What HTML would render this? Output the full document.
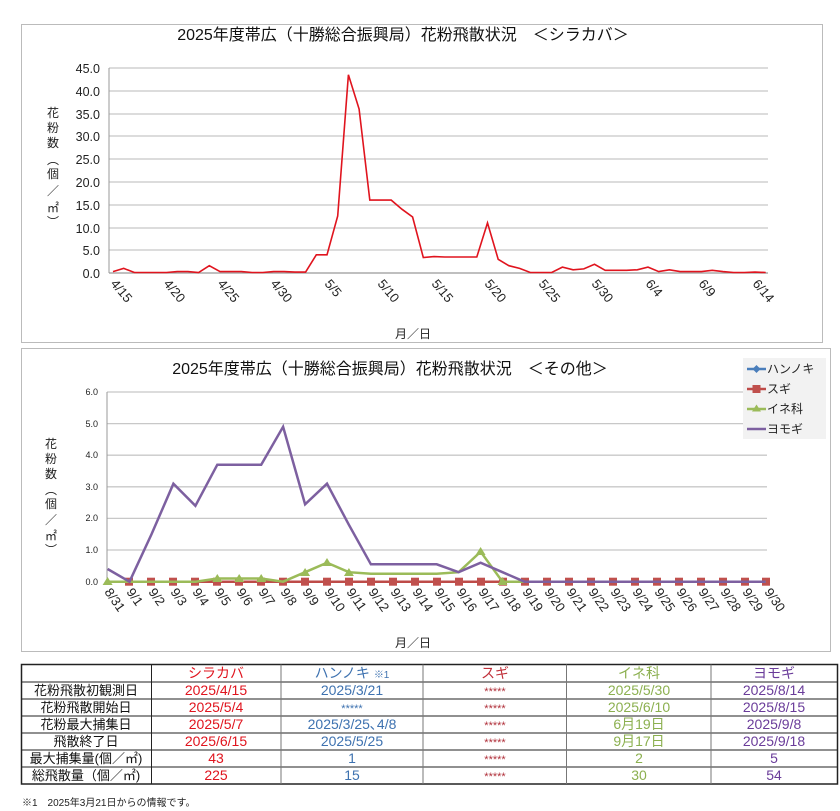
<!DOCTYPE html>
<html><head><meta charset="utf-8">
<style>
body{margin:0;background:#fff;}
svg{display:block;font-family:"Liberation Sans","Noto Sans CJK JP",sans-serif;}
</style></head><body>
<svg width="840" height="811" viewBox="0 0 840 811" xmlns="http://www.w3.org/2000/svg">
<rect width="840" height="811" fill="#fff"/>
<!-- Chart 1 -->
<rect x="21.5" y="24.5" width="801" height="318" fill="#fff" stroke="#bbb"/>
<text x="403" y="40" font-size="16" text-anchor="middle" fill="#111">2025年度帯広（十勝総合振興局）花粉飛散状況　＜シラカバ＞</text>
<g stroke="#c8c8c8" stroke-width="1.3">
<line x1="109" y1="68" x2="768" y2="68"/><line x1="109" y1="91" x2="768" y2="91"/>
<line x1="109" y1="114" x2="768" y2="114"/><line x1="109" y1="136" x2="768" y2="136"/>
<line x1="109" y1="159" x2="768" y2="159"/><line x1="109" y1="182" x2="768" y2="182"/>
<line x1="109" y1="205" x2="768" y2="205"/><line x1="109" y1="228" x2="768" y2="228"/>
<line x1="109" y1="250" x2="768" y2="250"/>
</g>
<line x1="109" y1="273" x2="768" y2="273" stroke="#999" stroke-width="1.3"/>
<line x1="109" y1="68" x2="109" y2="273" stroke="#999"/>
<g font-size="12.5" text-anchor="end" fill="#222">
<text x="100" y="73">45.0</text><text x="100" y="96">40.0</text><text x="100" y="119">35.0</text>
<text x="100" y="141">30.0</text><text x="100" y="164">25.0</text><text x="100" y="187">20.0</text>
<text x="100" y="210">15.0</text><text x="100" y="233">10.0</text><text x="100" y="255">5.0</text>
<text x="100" y="278">0.0</text>
</g>
<g font-size="12" fill="#222" text-anchor="middle">
<text x="53" y="117">花</text><text x="53" y="132">粉</text><text x="53" y="147">数</text>
<text x="53" y="164">︵</text><text x="53" y="178">個</text><text x="53" y="195">／</text>
<text x="53" y="212">㎡</text><text x="53" y="226">︶</text>
</g>
<polyline fill="none" stroke="#e0141e" stroke-width="1.6" points="113,271.6 123.7,268.4 134.4,272.5 145.1,272.5 155.8,272.5 166.5,272.5 177.2,271.6 187.9,271.6 198.6,272.5 209.3,265.7 220,271.6 230.7,271.6 241.4,271.6 252.1,272.5 262.8,272.5 273.5,271.6 284.2,271.6 294.9,272.1 305.6,272.1 316.3,254.8 327,254.8 337.7,216 348.4,74.8 359.1,109 369.8,200.1 380.5,200.1 391.2,200.1 401.9,209.2 412.6,217 423.3,257.5 434,256.6 444.7,257 455.4,257 466.1,257 476.8,257 487.5,222.9 498.2,259.3 508.9,265.7 519.6,268.4 530.3,272.5 541,272.5 551.7,272.5 562.4,267.1 573.1,269.8 583.8,268.9 594.5,264.3 605.2,270.3 615.9,270.3 626.6,270.3 637.3,269.8 648,267.1 658.7,271.6 669.4,269.8 680.1,271.6 690.8,271.6 701.5,271.6 712.2,270.3 722.9,271.6 733.6,272.5 744.3,272.5 755,272.1 765.7,272.5"/>
<g font-size="13" fill="#222">
<text transform="translate(110,284) rotate(50)">4/15</text>
<text transform="translate(163,284) rotate(50)">4/20</text>
<text transform="translate(217,284) rotate(50)">4/25</text>
<text transform="translate(270,284) rotate(50)">4/30</text>
<text transform="translate(324,284) rotate(50)">5/5</text>
<text transform="translate(377,284) rotate(50)">5/10</text>
<text transform="translate(431,284) rotate(50)">5/15</text>
<text transform="translate(484,284) rotate(50)">5/20</text>
<text transform="translate(538,284) rotate(50)">5/25</text>
<text transform="translate(591,284) rotate(50)">5/30</text>
<text transform="translate(645,284) rotate(50)">6/4</text>
<text transform="translate(698,284) rotate(50)">6/9</text>
<text transform="translate(752,284) rotate(50)">6/14</text>
</g>
<text x="413" y="338" font-size="12" text-anchor="middle" fill="#222">月／日</text>

<!-- Chart 2 -->
<rect x="21.5" y="348.5" width="809" height="303" fill="#fff" stroke="#bbb"/>
<text x="390" y="374" font-size="16" text-anchor="middle" fill="#111">2025年度帯広（十勝総合振興局）花粉飛散状況　＜その他＞</text>
<g stroke="#c8c8c8" stroke-width="1.3">
<line x1="107" y1="392" x2="767" y2="392"/><line x1="107" y1="423.6" x2="767" y2="423.6"/>
<line x1="107" y1="455.2" x2="767" y2="455.2"/><line x1="107" y1="486.8" x2="767" y2="486.8"/>
<line x1="107" y1="518.4" x2="767" y2="518.4"/><line x1="107" y1="550" x2="767" y2="550"/>
</g>
<line x1="107" y1="581.7" x2="767" y2="581.7" stroke="#999" stroke-width="1.3"/>
<line x1="107" y1="392" x2="107" y2="581.7" stroke="#999"/>
<g font-size="9" text-anchor="end" fill="#222">
<text x="98" y="395">6.0</text><text x="98" y="427">5.0</text><text x="98" y="458">4.0</text>
<text x="98" y="490">3.0</text><text x="98" y="521">2.0</text><text x="98" y="553">1.0</text>
<text x="98" y="585">0.0</text>
</g>
<g font-size="12" fill="#222" text-anchor="middle">
<text x="51" y="448">花</text><text x="51" y="463">粉</text><text x="51" y="478">数</text>
<text x="51" y="494">︵</text><text x="51" y="508">個</text><text x="51" y="524">／</text>
<text x="51" y="540">㎡</text><text x="51" y="554">︶</text>
</g>
<!-- series -->
<polyline fill="none" stroke="#4a7ebb" stroke-width="2.5" points="107.6,581.7 765.7,581.7"/>
<polyline fill="none" stroke="#be4b48" stroke-width="2.5" points="107.6,581.7 765.7,581.7"/>
<g fill="#c0504d">
<rect x="125" y="577.7" width="8" height="8"/><rect x="147" y="577.7" width="8" height="8"/><rect x="169" y="577.7" width="8" height="8"/><rect x="191" y="577.7" width="8" height="8"/><rect x="213" y="577.7" width="8" height="8"/><rect x="235" y="577.7" width="8" height="8"/><rect x="257" y="577.7" width="8" height="8"/><rect x="279" y="577.7" width="8" height="8"/><rect x="301" y="577.7" width="8" height="8"/><rect x="323" y="577.7" width="8" height="8"/><rect x="345" y="577.7" width="8" height="8"/><rect x="367" y="577.7" width="8" height="8"/><rect x="389" y="577.7" width="8" height="8"/><rect x="411" y="577.7" width="8" height="8"/><rect x="433" y="577.7" width="8" height="8"/><rect x="455" y="577.7" width="8" height="8"/><rect x="477" y="577.7" width="8" height="8"/><rect x="499" y="577.7" width="8" height="8"/><rect x="521" y="577.7" width="8" height="8"/><rect x="543" y="577.7" width="8" height="8"/><rect x="565" y="577.7" width="8" height="8"/><rect x="587" y="577.7" width="8" height="8"/><rect x="609" y="577.7" width="8" height="8"/><rect x="631" y="577.7" width="8" height="8"/><rect x="653" y="577.7" width="8" height="8"/><rect x="675" y="577.7" width="8" height="8"/><rect x="697" y="577.7" width="8" height="8"/><rect x="719" y="577.7" width="8" height="8"/><rect x="741" y="577.7" width="8" height="8"/><rect x="762" y="577.7" width="8" height="8"/>
</g>
<polyline fill="none" stroke="#9bbb59" stroke-width="2.5" points="107.6,581.7 129.5,581.7 151.5,581.7 173.4,581.7 195.4,581.7 217.3,578.5 239.2,578.5 261.2,578.5 283.1,581.7 305.1,572.2 327,562.7 348.9,572.2 370.9,573.8 392.8,573.8 414.8,573.8 436.7,573.8 458.6,572.2 480.6,551.7 502.5,581.7 524.5,581.7 765.7,581.7"/>
<g fill="#9bbb59">
<path d="M107.6,577 l5,8 h-10z"/><path d="M217.3,574 l5,8 h-10z"/><path d="M239.2,574 l5,8 h-10z"/><path d="M261.2,574 l5,8 h-10z"/><path d="M305.1,568 l5,8 h-10z"/><path d="M327,558 l5,8 h-10z"/><path d="M348.9,568 l5,8 h-10z"/><path d="M480.6,547 l5,8 h-10z"/><path d="M502.5,577 l5,8 h-10z"/>
</g>
<polyline fill="none" stroke="#7d60a0" stroke-width="2.5" points="107.6,569 129.5,581.7 151.5,534.3 173.4,483.7 195.4,505.8 217.3,464.7 239.2,464.7 261.2,464.7 283.1,426.8 305.1,504.3 327,483.7 348.9,524.8 370.9,564.3 392.8,564.3 414.8,564.3 436.7,564.3 458.6,572.2 480.6,562.7 502.5,572.2 524.5,581.7 765.7,581.7"/>
<g font-size="13" fill="#222">
<text transform="translate(104,592) rotate(55)">8/31</text>
<text transform="translate(126,592) rotate(55)">9/1</text>
<text transform="translate(148,592) rotate(55)">9/2</text>
<text transform="translate(170,592) rotate(55)">9/3</text>
<text transform="translate(192,592) rotate(55)">9/4</text>
<text transform="translate(214,592) rotate(55)">9/5</text>
<text transform="translate(236,592) rotate(55)">9/6</text>
<text transform="translate(258,592) rotate(55)">9/7</text>
<text transform="translate(280,592) rotate(55)">9/8</text>
<text transform="translate(302,592) rotate(55)">9/9</text>
<text transform="translate(324,592) rotate(55)">9/10</text>
<text transform="translate(346,592) rotate(55)">9/11</text>
<text transform="translate(368,592) rotate(55)">9/12</text>
<text transform="translate(390,592) rotate(55)">9/13</text>
<text transform="translate(412,592) rotate(55)">9/14</text>
<text transform="translate(434,592) rotate(55)">9/15</text>
<text transform="translate(456,592) rotate(55)">9/16</text>
<text transform="translate(478,592) rotate(55)">9/17</text>
<text transform="translate(500,592) rotate(55)">9/18</text>
<text transform="translate(522,592) rotate(55)">9/19</text>
<text transform="translate(544,592) rotate(55)">9/20</text>
<text transform="translate(566,592) rotate(55)">9/21</text>
<text transform="translate(588,592) rotate(55)">9/22</text>
<text transform="translate(610,592) rotate(55)">9/23</text>
<text transform="translate(632,592) rotate(55)">9/24</text>
<text transform="translate(654,592) rotate(55)">9/25</text>
<text transform="translate(676,592) rotate(55)">9/26</text>
<text transform="translate(698,592) rotate(55)">9/27</text>
<text transform="translate(720,592) rotate(55)">9/28</text>
<text transform="translate(742,592) rotate(55)">9/29</text>
<text transform="translate(764,592) rotate(55)">9/30</text>
</g>
<text x="413" y="647" font-size="12" text-anchor="middle" fill="#222">月／日</text>
<!-- legend -->
<rect x="743" y="358" width="83" height="81" fill="#f2f2f2"/>
<g font-size="12" fill="#222">
<line x1="747" y1="369" x2="766" y2="369" stroke="#4a7ebb" stroke-width="2.5"/><path d="M756.5,365 l4,4 -4,4 -4,-4z" fill="#4a7ebb"/><text x="767" y="373">ハンノキ</text>
<line x1="747" y1="389" x2="766" y2="389" stroke="#be4b48" stroke-width="2.5"/><rect x="752.5" y="385" width="8" height="8" fill="#c0504d"/><text x="767" y="393">スギ</text>
<line x1="747" y1="409" x2="766" y2="409" stroke="#9bbb59" stroke-width="2.5"/><path d="M756.5,404.5 l4.5,7 h-9z" fill="#9bbb59"/><text x="767" y="413">イネ科</text>
<line x1="747" y1="429" x2="766" y2="429" stroke="#7d60a0" stroke-width="2.5"/><text x="767" y="433">ヨモギ</text>
</g>

<!-- Table -->
<g stroke="#222" stroke-width="1">
<rect x="21.5" y="664.5" width="816" height="119.5" fill="none" stroke-width="1.5"/>
<line x1="21.5" y1="682" x2="837.5" y2="682"/><line x1="21.5" y1="699" x2="837.5" y2="699"/>
<line x1="21.5" y1="716" x2="837.5" y2="716"/><line x1="21.5" y1="733" x2="837.5" y2="733"/>
<line x1="21.5" y1="750" x2="837.5" y2="750"/><line x1="21.5" y1="767" x2="837.5" y2="767"/>
<line x1="151.5" y1="664.5" x2="151.5" y2="784"/><line x1="281" y1="664.5" x2="281" y2="784" stroke="#777"/>
<line x1="423" y1="664.5" x2="423" y2="784" stroke="#777"/><line x1="566.5" y1="664.5" x2="566.5" y2="784" stroke="#777"/>
<line x1="711" y1="664.5" x2="711" y2="784" stroke="#777"/>
</g>
<g font-size="13" text-anchor="middle" fill="#111">
<text x="86" y="695">花粉飛散初観測日</text><text x="86" y="712">花粉飛散開始日</text>
<text x="86" y="729">花粉最大捕集日</text><text x="86" y="746">飛散終了日</text>
<text x="86" y="763">最大捕集量(個／㎡)</text><text x="86" y="780">総飛散量（個／㎡)</text>
</g>
<g font-size="14" text-anchor="middle">
<g fill="#e0141e"><text x="216" y="678">シラカバ</text><text x="216" y="695">2025/4/15</text><text x="216" y="712">2025/5/4</text><text x="216" y="729">2025/5/7</text><text x="216" y="746">2025/6/15</text><text x="216" y="763">43</text><text x="216" y="780">225</text></g>
<g fill="#3e72b0"><text x="352" y="678">ハンノキ <tspan font-size="10">※1</tspan></text><text x="352" y="695">2025/3/21</text><text x="352" y="712" font-size="11">*****</text><text x="352" y="729">2025/3/25､4/8</text><text x="352" y="746">2025/5/25</text><text x="352" y="763">1</text><text x="352" y="780">15</text></g>
<g fill="#b0303a" font-size="11"><text x="495" y="678" font-size="14" fill="#c0303a">スギ</text><text x="495" y="712">*****</text><text x="495" y="729">*****</text><text x="495" y="746">*****</text><text x="495" y="763">*****</text><text x="495" y="780">*****</text><text x="495" y="695">*****</text></g>
<g fill="#8cb050"><text x="639" y="678">イネ科</text><text x="639" y="695">2025/5/30</text><text x="639" y="712">2025/6/10</text><text x="639" y="729">6月19日</text><text x="639" y="746">9月17日</text><text x="639" y="763">2</text><text x="639" y="780">30</text></g>
<g fill="#6a3c9a"><text x="774" y="678">ヨモギ</text><text x="774" y="695">2025/8/14</text><text x="774" y="712">2025/8/15</text><text x="774" y="729">2025/9/8</text><text x="774" y="746">2025/9/18</text><text x="774" y="763">5</text><text x="774" y="780">54</text></g>
</g>
<text x="22" y="806" font-size="10" fill="#222">※1　2025年3月21日からの情報です。</text>
</svg>
</body></html>
